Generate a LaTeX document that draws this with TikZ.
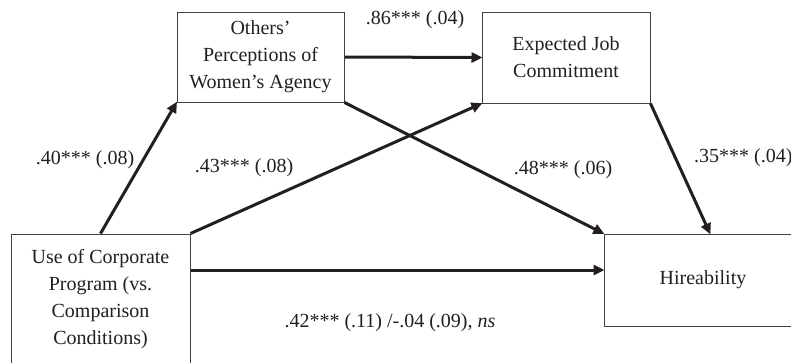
\documentclass[tikz,border=0pt]{standalone}
\usepackage{fontspec}
\setmainfont{Liberation Serif}
\usetikzlibrary{arrows.meta}
\definecolor{ink}{HTML}{231F20}
\tikzset{
  box/.style={draw=ink!85, line width=1pt, inner sep=0pt, align=center, text=ink,
    font=\fontsize{20}{27}\selectfont},
  path/.style={draw=ink, line width=3pt, -{Triangle[length=11pt,width=10pt]}, shorten >=-1pt},
  coef/.style={text=ink, inner sep=0pt, font=\fontsize{20}{24}\selectfont}
}
\begin{document}
\begin{tikzpicture}[x=1pt,y=-1pt]
\useasboundingbox (0,0) rectangle (791,362);
\clip (0,0) rectangle (791,362);
\fill[white] (0,0) rectangle (791,362);
\node[box, minimum width=167pt, minimum height=90pt] (A) at (260.5,57) {Others’\\Perceptions of\\Women’s Agency};
\node[box, minimum width=168pt, minimum height=91pt] (B) at (566,57.5) {Expected Job\\Commitment};
\node[box, minimum width=179pt, minimum height=130pt] (C) at (100.5,299) {Use of Corporate\\Program (vs.\\Comparison\\Conditions)};
\node[box, minimum width=198pt, minimum height=92pt] (D) at (703,280) {Hireability};
\draw[path] (C.north) -- (A.south west);
\draw[path] (A.east) -- (B.west);
\draw[path] (C.north east) -- (B.south west);
\draw[path] (A.south east) -- (D.north west);
\draw[path] (B.south east) -- ([xshift=7pt]D.north);
\draw[path] ([yshift=29pt]C.east) -- ([yshift=10pt]D.west);
\node[coef] (l1) at (85,160) {.40*** (.08)};
\node[coef] (l2) at (415,20) {.86*** (.04)};
\node[coef] (l3) at (244,168) {.43*** (.08)};
\node[coef] (l4) at (563,170) {.48*** (.06)};
\node[coef, anchor=west] (l5) at (694,158) {.35*** (.04)};
\node[coef] (l6) at (390,323) {.42*** (.11) /-.04 (.09), \textit{ns}};
\end{tikzpicture}
\end{document}
